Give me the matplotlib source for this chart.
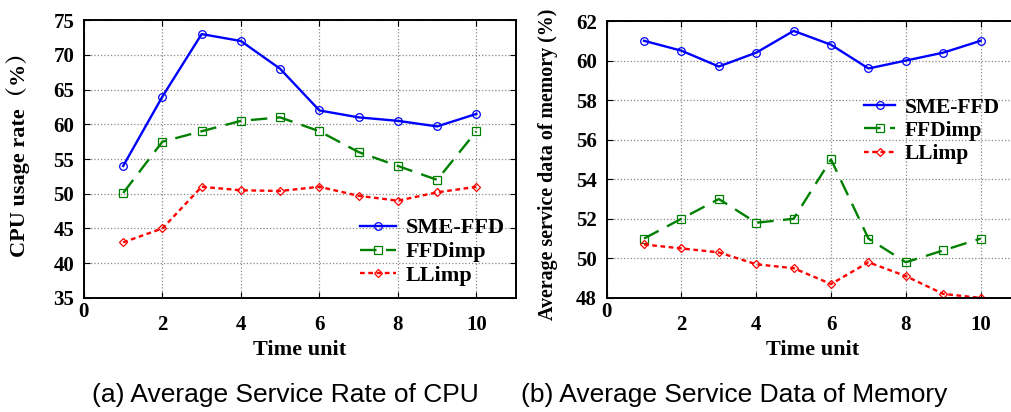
import matplotlib
matplotlib.use('Agg')
import matplotlib.pyplot as plt

# time units
time_unit = [1, 2, 3, 4, 5, 6, 7, 8, 9, 10]

# (a) CPU usage rate (%)
cpu_sme_ffd = [54.0, 64.0, 73.0, 72.0, 68.0, 62.0, 61.0, 60.5, 59.7, 61.5]
cpu_ffdimp = [50.1, 57.5, 59.0, 60.5, 61.0, 59.0, 56.0, 54.0, 52.0, 59.0]
cpu_llimp = [43.0, 45.0, 51.0, 50.5, 50.4, 51.0, 49.7, 49.0, 50.2, 51.0]

# (b) memory service data (%)
mem_sme_ffd = [61.0, 60.5, 59.7, 60.4, 61.5, 60.8, 59.6, 60.0, 60.4, 61.0]
mem_ffdimp = [51.0, 52.0, 53.0, 51.8, 52.0, 55.0, 51.0, 49.8, 50.4, 51.0]
mem_llimp = [50.7, 50.5, 50.3, 49.7, 49.5, 48.7, 49.8, 49.1, 48.2, 48.0]

series_names = ['SME-FFD', 'FFDimp', 'LLimp']
x_ticks = [0, 2, 4, 6, 8, 10]
cpu_yticks = [35, 40, 45, 50, 55, 60, 65, 70, 75]
mem_yticks = [48, 50, 52, 54, 56, 58, 60, 62]

SERIF = ['Liberation Serif', 'Noto Serif CJK SC', 'Noto Sans CJK SC', 'DejaVu Serif']

fig = plt.figure(figsize=(10.11, 4.12), dpi=100)
ax1 = fig.add_axes([0.083, 0.277, 0.427, 0.674])
ax2 = fig.add_axes([0.600, 0.277, 0.407, 0.672])

styles = [
    dict(color='#0000ff', ls='-', lw=1.7, marker='o'),
    dict(color='#008000', ls=(0, (7, 4)), lw=1.7, marker='s'),
    dict(color='#ff0000', ls=(0, (2, 1.5)), lw=1.7, marker='D'),
]


def draw(ax, ys, yticks, ylim, ylabel, ylabel_size, ylabel_xy, legend_anchor, legend_size, handle_len):
    for y, name, st in zip(ys, series_names, styles):
        ax.plot(time_unit, y, label=name, color=st['color'], ls=st['ls'], lw=st['lw'],
                marker=st['marker'], ms=5.5 if st['marker'] != 'D' else 4.5,
                mfc='none', mec=st['color'], mew=0.9)
    ax.set_xlim(0, 11)
    ax.set_ylim(*ylim)
    ax.set_xticks(x_ticks)
    ax.set_yticks(yticks)
    ax.grid(True, color='#888888', ls=':', lw=0.9)
    ax.tick_params(direction='in', top=True, right=True, length=4, width=0.8)
    for lab in ax.get_xticklabels() + ax.get_yticklabels():
        lab.set_family(SERIF)
        lab.set_fontweight('bold')
        lab.set_fontsize(15)
    ax.tick_params(axis='y', pad=7)
    for i, t in enumerate(ax.xaxis.get_major_ticks()):
        t.set_pad(3 if i == 0 else 12)
    for sp in ax.spines.values():
        sp.set_linewidth(1.4)
    ax.set_xlabel('Time unit', family=SERIF, fontweight='bold', fontsize=16, labelpad=4)
    ax.set_ylabel(ylabel, family=SERIF, fontweight='bold', fontsize=ylabel_size)
    ax.yaxis.set_label_coords(*ylabel_xy)
    ax.legend(loc='upper left', bbox_to_anchor=legend_anchor, frameon=False,
              prop=dict(family=SERIF, weight='bold', size=legend_size),
              handlelength=handle_len, handletextpad=0.45, labelspacing=0.15,
              borderaxespad=0)


draw(ax1, [cpu_sme_ffd, cpu_ffdimp, cpu_llimp], cpu_yticks, (35, 75),
     'CPU usage rate（%）', 16, (-0.125, 0.535), (0.62, 0.32), 16, 1.6)
draw(ax2, [mem_sme_ffd, mem_ffdimp, mem_llimp], mem_yticks, (48, 62),
     'Average service data of memory (%)', 14.4, (-0.118, 0.484), (0.605, 0.755), 15.5, 1.45)

fig.text(0.282, 0.041, '(a) Average Service Rate of CPU', ha='center', va='center',
         family='Liberation Sans', fontsize=19)
fig.text(0.726, 0.041, '(b) Average Service Data of Memory', ha='center', va='center',
         family='Liberation Sans', fontsize=19)

fig.savefig('out.png', dpi=100)
